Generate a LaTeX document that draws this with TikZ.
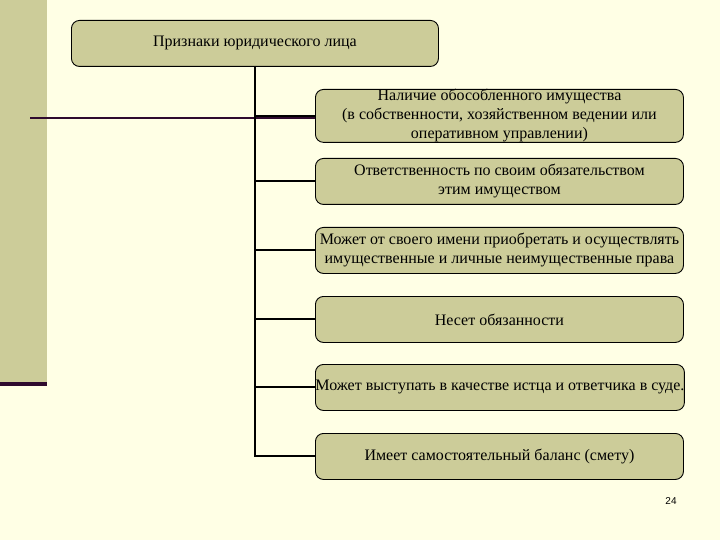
\documentclass[tikz,border=0pt]{standalone}
\usepackage{fontspec}
\setmainfont{Liberation Serif}
\newfontfamily\numfont{Liberation Sans}
\definecolor{bgyellow}{HTML}{FFFFE5}
\definecolor{olivefill}{HTML}{CCCC99}
\definecolor{darkplum}{HTML}{2E0A2E}
\begin{document}
\begin{tikzpicture}[x=1pt,y=-1pt,
  box/.style={draw=black, line width=0.9pt, fill=olivefill, rounded corners=8pt,
    align=center, inner sep=0pt, font=\fontsize{16}{19}\selectfont,
    minimum width=368pt, minimum height=46pt, anchor=north west},
  link/.style={draw=black, line width=2pt}]
  % background and slide decoration
  \fill[bgyellow] (0,0) rectangle (720,540);
  \useasboundingbox (0,0) rectangle (720,540);
  \fill[olivefill] (0,0) rectangle (47,382);
  \fill[darkplum] (0,382) rectangle (47,386);
  \coordinate (tl) at (30,118);
  \coordinate (tr) at (315,118);
  \draw[darkplum, line width=2pt] (tl) -- (tr);
  % top box
  \node[box, minimum width=367pt] (top) at (71,20) {Признаки юридического лица};
  % child boxes
  \node[box] (b1) at (315,89) {Наличие обособленного имущества\\(в собственности, хозяйственном ведении или\\оперативном управлении)};
  \node[box] (b2) at (315,158) {Ответственность по своим обязательством\\этим имуществом};
  \node[box] (b3) at (315,227) {Может от своего имени приобретать и осуществлять\\имущественные и личные неимущественные права};
  \node[box] (b4) at (315,296) {Несет обязанности};
  \node[box] (b5) at (315,364) {Может выступать в качестве истца и ответчика в суде.};
  \node[box] (b6) at (315,433) {Имеет самостоятельный баланс (смету)};
  % connectors
  \coordinate (trunk) at (255,66);
  \draw[link] (trunk) -- (trunk |- b6.west) -- (b6.west);
  \foreach \b in {b1,b2,b3,b4,b5}{
    \draw[link] (trunk |- \b.west) -- (\b.west);
  }
  % page number
  \node[font=\numfont\fontsize{10}{12}\selectfont] (pnum) at (671,501) {24};
\end{tikzpicture}
\end{document}
